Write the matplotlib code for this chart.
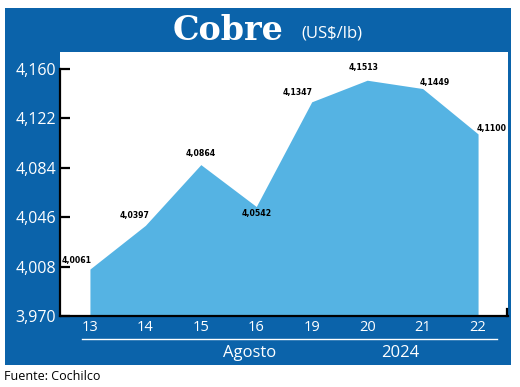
import matplotlib
matplotlib.use("Agg")
import matplotlib.pyplot as plt
from matplotlib.patches import Rectangle
from matplotlib.lines import Line2D

days = ["13", "14", "15", "16", "19", "20", "21", "22"]
prices = [4.0061, 4.0397, 4.0864, 4.0542, 4.1347, 4.1513, 4.1449, 4.1100]
price_labels = ["4,0061", "4,0397", "4,0864", "4,0542", "4,1347", "4,1513", "4,1449", "4,1100"]
yticks = [3.970, 4.008, 4.046, 4.084, 4.122, 4.160]
ytick_labels = ["3,970", "4,008", "4,046", "4,084", "4,122", "4,160"]
label_offsets = [(-9.5, 6.5), (-8, 7), (0, 7.7), (0, -4.7), (-9.8, 6.4), (-2.9, 8.9), (9, 4.7), (10, 3.6)]

W, H = 520, 387
DARK = "#0b63aa"
LIGHT = "#55b3e3"

fig = plt.figure(figsize=(W / 100, H / 100), dpi=100)

def fx(px):
    return px / W

def fy(py):
    return 1 - py / H

# blue frame
fig.patches.append(Rectangle((fx(5), fy(365)), fx(511) - fx(5), fy(8) - fy(365),
                             transform=fig.transFigure, facecolor=DARK, edgecolor="none", zorder=-5))

ax = fig.add_axes([fx(60), fy(316), fx(508) - fx(60), fy(52) - fy(316)])
ax.set_zorder(1)
ax.set_facecolor("white")
x = list(range(len(days)))
ax.fill_between(x, 3.970, prices, color=LIGHT, linewidth=0, zorder=2)
ax.set_xlim(-0.54, 7.54)
ax.set_ylim(3.970, 4.173)

for s in ["top", "right"]:
    ax.spines[s].set_visible(False)
ax.spines["left"].set_bounds(3.970, 4.160)
ax.spines["left"].set_linewidth(1.6)
ax.spines["bottom"].set_linewidth(1.6)
ax.spines["left"].set_zorder(3)
ax.spines["bottom"].set_zorder(3)
ax.set_yticks(yticks)
ax.set_yticklabels(ytick_labels)
ax.tick_params(axis="y", direction="in", length=7, width=1.6, colors="black",
               labelcolor="white", labelsize=11.5, pad=3)
for t in ax.get_yticklabels():
    t.set_fontfamily("Open Sans")
ax.set_xticks(x)
ax.set_xticklabels(days)
ax.tick_params(axis="x", length=0, labelcolor="white", labelsize=10.5, pad=3)
for t in ax.get_xticklabels():
    t.set_fontfamily("Open Sans")

# right end mark of bottom axis
ax.add_line(Line2D([7.52, 7.52], [3.970, 3.975], color="black", lw=1.6, clip_on=False, zorder=3))

for xi, v, lab, off in zip(x, prices, price_labels, label_offsets):
    ax.annotate(lab, (xi, v), xytext=off, textcoords="offset points",
                ha="center", va="center", fontsize=6.2, fontweight="bold",
                fontstretch="condensed", family="DejaVu Sans", color="black", zorder=4)

# title
fig.text(fx(228), fy(30), "Cobre", ha="center", va="center", color="white",
         fontsize=24, fontweight="bold", family="DejaVu Serif")
fig.text(fx(332), fy(33), "(US$/lb)", ha="center", va="center", color="white",
         fontsize=12, family="Open Sans")

# underline and month/year labels
fig.add_artist(Line2D([fx(82), fx(497)], [fy(339), fy(339)], color="white", lw=1.0))
fig.text(fx(250), fy(353), "Agosto", ha="center", va="center", color="white",
         fontsize=12, family="Open Sans")
fig.text(fx(400), fy(353), "2024", ha="center", va="center", color="white",
         fontsize=12, family="Open Sans")

fig.text(fx(4), fy(377), "Fuente: Cochilco", ha="left", va="center", color="black",
         fontsize=9, family="Open Sans")

fig.savefig("out.png", dpi=100, facecolor="white")
